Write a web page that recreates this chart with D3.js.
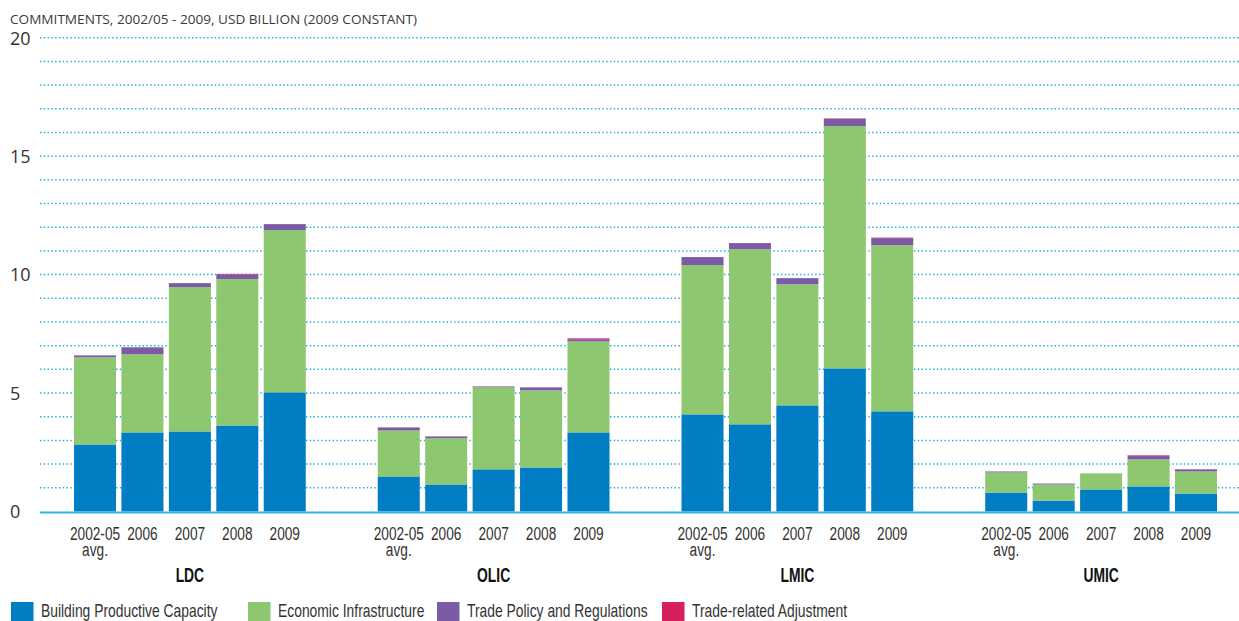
<!DOCTYPE html>
<html>
<head>
<meta charset="utf-8">
<script src="https://cdn.jsdelivr.net/npm/d3@7"></script>
<style>
  html, body { margin: 0; padding: 0; background: #fff; }
  svg { display: block; }
</style>
</head>
<body>
<div id="chart"></div>
<script>
const title = "COMMITMENTS, 2002/05 - 2009, USD BILLION (2009 CONSTANT)";

const groups = ["LDC", "OLIC", "LMIC", "UMIC"];
const years = ["2002-05 avg.", "2006", "2007", "2008", "2009"];
const yearLines = [["2002-05", "avg."], ["2006"], ["2007"], ["2008"], ["2009"]];

const seriesKeys = ["bpc", "ei", "tpr", "tra"];
const seriesNames = ["Building Productive Capacity", "Economic Infrastructure", "Trade Policy and Regulations", "Trade-related Adjustment"];
const seriesColors = ["#017dc3", "#8dc770", "#7b5aa6", "#d61f5e"];

// one array per series, rows = groups, cols = years
const bpc = [
  [2.83, 3.34, 3.38, 3.63, 5.03],
  [1.48, 1.14, 1.78, 1.86, 3.34],
  [4.10, 3.68, 4.48, 6.04, 4.23],
  [0.80, 0.46, 0.93, 1.06, 0.76]
];
const ei = [
  [3.68, 3.30, 6.09, 6.18, 6.85],
  [1.94, 1.95, 3.46, 3.25, 3.84],
  [6.30, 7.39, 5.11, 10.23, 7.01],
  [0.85, 0.68, 0.68, 1.14, 0.93]
];
const tpr = [
  [0.08, 0.29, 0.17, 0.19, 0.25],
  [0.13, 0.08, 0.04, 0.13, 0.09],
  [0.34, 0.26, 0.26, 0.30, 0.30],
  [0.04, 0.04, 0.00, 0.14, 0.09]
];
const tra = [
  [0, 0, 0, 0.03, 0],
  [0, 0, 0, 0, 0.04],
  [0, 0, 0, 0.02, 0.02],
  [0, 0, 0, 0.03, 0]
];

const yTicks = [0, 5, 10, 15, 20];

const width = 1239, height = 621;
const sans = '"Liberation Sans", Arial, sans-serif';
const squeeze = 0.72; // fake a condensed face

const rows = [];
groups.forEach((g, gi) => years.forEach((yr, yi) => {
  rows.push({ group: g, year: yr, bpc: bpc[gi][yi], ei: ei[gi][yi], tpr: tpr[gi][yi], tra: tra[gi][yi] });
}));

const stacked = d3.stack().keys(seriesKeys)(rows);

const svg = d3.select("#chart").append("svg")
  .attr("width", width)
  .attr("height", height);

const y = d3.scaleLinear().domain([0, 20]).range([511.5, 37.7]);

const xGroup = d3.scaleBand().domain(groups).range([74, 1217]).paddingInner(0.237);
const xYear = d3.scaleBand().domain(years).range([0, xGroup.bandwidth()]).paddingInner(0.114);

// title
svg.append("text")
  .attr("x", 10)
  .attr("y", 24)
  .attr("font-family", '"Open Sans", "Liberation Sans", sans-serif')
  .attr("font-size", 13.5)
  .attr("fill", "#3a3a3a")
  .attr("textLength", 407)
  .attr("lengthAdjust", "spacingAndGlyphs")
  .text(title);

// dotted grid
svg.append("g")
  .selectAll("line")
  .data(d3.range(1, 21))
  .join("line")
  .attr("x1", 40)
  .attr("x2", width)
  .attr("y1", d => y(d))
  .attr("y2", d => y(d))
  .attr("stroke", "#1aaee8")
  .attr("stroke-width", 1.5)
  .attr("stroke-dasharray", "1.4,2.4");

// y labels
svg.append("g")
  .selectAll("text")
  .data(yTicks)
  .join("text")
  .attr("x", 10)
  .attr("y", d => y(d) + 2)
  .attr("dominant-baseline", "middle")
  .attr("font-family", '"Open Sans", sans-serif')
  .attr("font-size", 18)
  .attr("fill", "#333")
  .text(d => d);

// bars
const barG = svg.append("g");
stacked.forEach((layer, li) => {
  barG.append("g")
    .attr("fill", seriesColors[li])
    .selectAll("rect")
    .data(layer)
    .join("rect")
    .attr("x", d => xGroup(d.data.group) + xYear(d.data.year))
    .attr("width", xYear.bandwidth())
    .attr("y", d => y(d[1]))
    .attr("height", d => Math.max(0, y(d[0]) - y(d[1])));
});

// baseline
svg.append("line")
  .attr("x1", 40)
  .attr("x2", width)
  .attr("y1", y(0) + 1)
  .attr("y2", y(0) + 1)
  .attr("stroke", "#29b6ea")
  .attr("stroke-width", 2);

// year + group labels
const labG = svg.append("g")
  .attr("font-family", sans)
  .attr("fill", "#333")
  .attr("text-anchor", "middle");

groups.forEach(g => {
  years.forEach((yr, yi) => {
    const cx = xGroup(g) + xYear(yr) + xYear.bandwidth() / 2;
    yearLines[yi].forEach((line, li) => {
      labG.append("text")
        .attr("transform", `translate(${cx},${540 + li * 16}) scale(${squeeze},1)`)
        .attr("font-size", 19)
        .text(line);
    });
  });
  labG.append("text")
    .attr("transform", `translate(${xGroup(g) + xGroup.bandwidth() / 2},582) scale(0.66,1)`)
    .attr("font-weight", "bold")
    .attr("font-size", 21)
    .attr("fill", "#111")
    .text(g);
});

// legend
const legendX = [11, 248, 437, 662];
const leg = svg.append("g");
seriesNames.forEach((name, i) => {
  leg.append("rect")
    .attr("x", legendX[i])
    .attr("y", 602)
    .attr("width", 22.5)
    .attr("height", 22)
    .attr("fill", seriesColors[i]);
  leg.append("text")
    .attr("transform", `translate(${legendX[i] + 30},617) scale(0.73,1)`)
    .attr("font-family", sans)
    .attr("font-size", 19)
    .attr("fill", "#333")
    .text(name);
});
</script>
</body>
</html>
